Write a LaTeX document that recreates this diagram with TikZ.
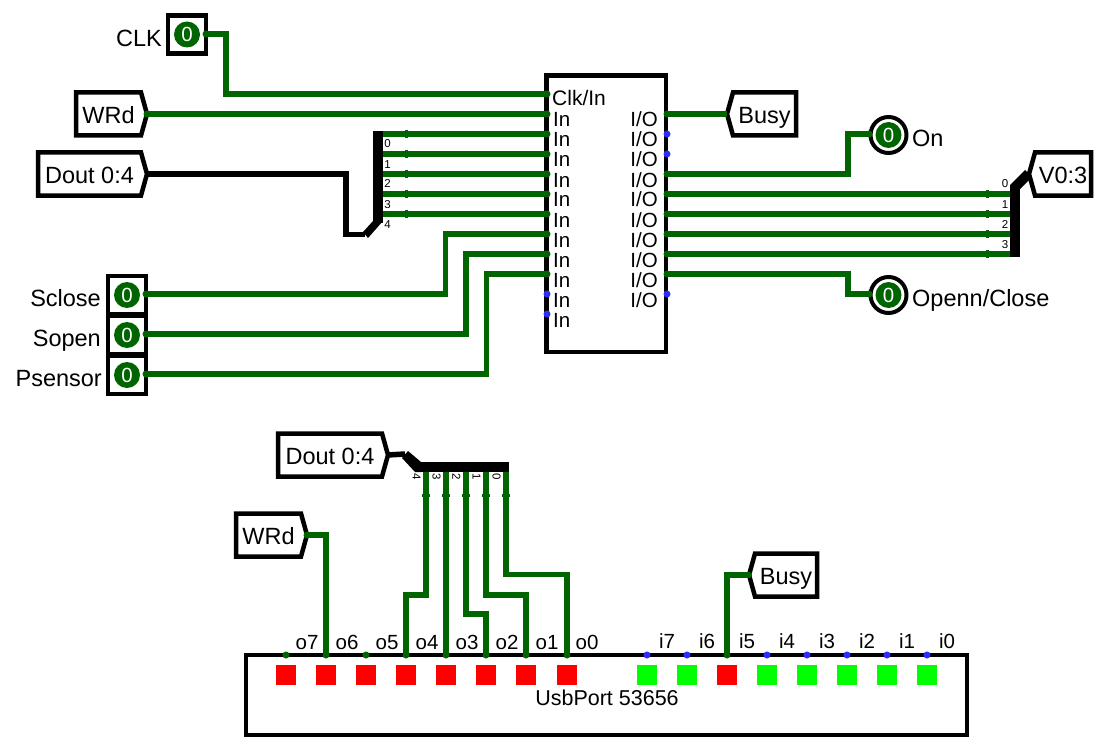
\documentclass[tikz,border=0pt]{standalone}
\usepackage{fontspec}
\setmainfont{Liberation Sans}
\definecolor{wire}{RGB}{0,100,0}
\definecolor{pinblue}{RGB}{45,45,255}
\definecolor{ledred}{RGB}{255,0,0}
\definecolor{ledgreen}{RGB}{0,255,0}
\newcommand{\labfont}{\fontsize{23.5}{26}\selectfont}
\newcommand{\compfont}{\fontsize{20.5}{24}\selectfont}
\newcommand{\tinyfont}{\fontsize{11.5}{13}\selectfont}
\newcommand{\inswitch}[3]{%
  \node[swbox] (#1box) at (#2) {};
  \node[ledc,text=white] (#1led) at (#2) {0};
  \coordinate (#1) at (#3);
  \fill[wire] (#1) circle (3.5);
}
\newcommand{\ledout}[2]{%
  \node[ledring] (#1ring) at (#2) {};
  \node[ledc,text=white] (#1led) at (#2) {0};
}
\newcommand{\signalR}[5]{% name, left x, right x, centre y, text
  \draw[shape line] (#2,#4-21.5) -- (#3-6,#4-21.5) -- (#3,#4) -- (#3-6,#4+21.5) -- (#2,#4+21.5) -- cycle;
  \node[lab,anchor=base] (#1text) at ({(#2+#3-6)/2},#4+9.7) {#5};
  \coordinate (#1) at (#3,#4);
}
\newcommand{\signalL}[5]{% name, left x, right x, centre y, text
  \draw[shape line] (#3,#4-21.5) -- (#2+6,#4-21.5) -- (#2,#4) -- (#2+6,#4+21.5) -- (#3,#4+21.5) -- cycle;
  \node[lab,anchor=base] (#1text) at ({(#2+#3+6)/2},#4+9.7) {#5};
  \coordinate (#1) at (#2,#4);
}
\tikzset{
  x=1pt,y=-1pt,
  shape line/.style={draw=black,line width=4.5pt,fill=white,line join=miter},
  lab/.style={font=\labfont,inner sep=0pt,text=black},
  comp/.style={font=\compfont,inner sep=0pt,text=black},
  small/.style={font=\tinyfont,inner sep=0pt,text=black},
  wirel/.style={draw=wire,line width=5.5pt,line join=miter},
  busthin/.style={draw=black,line width=5.5pt,line join=miter},
  busthick/.style={draw=black,line width=10pt},
  swbox/.style={draw=black,line width=4.5pt,fill=white,minimum width=38pt,minimum height=38pt,inner sep=0pt,outer sep=0pt},
  ledc/.style={circle,fill=wire,minimum size=26pt,inner sep=0pt,font=\fontsize{20.5}{22}\selectfont},
  ledring/.style={circle,draw=black,line width=4pt,fill=white,minimum size=36pt,inner sep=0pt},
}
\begin{document}
\begin{tikzpicture}
\useasboundingbox (0,0) rectangle (1102,754);
\fill[white] (0,0) rectangle (1102,754);

% main component
\draw[shape line] (546.5,75.5) rectangle (666,352);
\node[comp,anchor=base west,font=\fontsize{21}{24}\selectfont] (clkin) at (552,106) {Clk/In};
\coordinate (mc) at (547,94);
\foreach \i [evaluate=\i as \yy using int(94+20*\i)] in {1,...,11}{
  \coordinate (mi\i) at (547,\yy);
  \node[comp,anchor=base west] (min\i) at (553,\yy+13) {In};
}
\foreach \i [evaluate=\i as \yy using int(94+20*\i)] in {1,...,10}{
  \coordinate (mo\i) at (667,\yy);
  \node[comp,anchor=base east] (mout\i) at (658,\yy+13) {I/O};
}

% top inputs
\inswitch{clk}{187,34.5}{206,34}
\node[lab,anchor=base east] (clklab) at (162,47) {CLK};
\inswitch{sclose}{127,295}{146,294}
\inswitch{sopen}{127,335}{146,334}
\inswitch{psensor}{127,375}{146,374}
\node[lab,anchor=base east] (scloselab) at (101,306) {Sclose};
\node[lab,anchor=base east] (sopenlab) at (101,346) {Sopen};
\node[lab,anchor=base east] (psensorlab) at (102,386) {Psensor};
\signalR{wrd}{76}{147}{114}{WRd}
\signalR{dout}{38}{147}{174}{Dout 0:4}

% top splitter
\coordinate (sa) at (365,234.5);
\coordinate (st) at (378,131);
\draw[busthin] (dout) -- (346,174) -- (346,234.5) -- (sa);
\fill[black] (363,232) -- (373,221) -- (383,221) -- (368,238) -- cycle;
\draw[busthick] (378,223) -- (st);
\foreach \i/\n [evaluate=\i as \yy using int(94+20*\i)] in {2/0,3/1,4/2,5/3,6/4}{
  \coordinate (sp\n) at (383,\yy);
  \draw[wirel] (sp\n) -- (mi\i);
  \fill[wire] (404.5,\yy-4) rectangle (407.5,\yy+4);
  \node[small,anchor=base] (sl\n) at (387.5,\yy+14) {\n};
}

% wires into main
\draw[wirel] (clk) -- (226,34) -- (226,94) -- (mc);
\draw[wirel] (wrd) -- (mi1);
\draw[wirel] (sclose) -- (445.5,294) -- (445.5,234) -- (mi7);
\draw[wirel] (sopen) -- (466,334) -- (466,254) -- (mi8);
\draw[wirel] (psensor) -- (486.5,374) -- (486.5,274) -- (mi9);

% right side
\signalL{busy}{727}{796}{114}{Busy}
\draw[wirel] (mo1) -- (busy);
\ledout{on}{888.5,135}
\ledout{op}{888.5,295}
\coordinate (onp) at (869,134);
\coordinate (opp) at (869,294);
\draw[wirel] (mo4) -- (848,174) -- (848,134) -- (onp);
\draw[wirel] (mo9) -- (848,274) -- (848,294) -- (opp);
\fill[wire] (onp) circle (3.5);
\fill[wire] (opp) circle (3.5);
\node[lab,anchor=base west] (onlab) at (912,147) {On};
\node[lab,anchor=base west] (oplab) at (912,306) {Openn/Close};

% V0:3
\coordinate (vb) at (1015,257);
\fill[black] (1010,185) -- (1025,170) -- (1032,177) -- (1020,189) -- (1010,189) -- cycle;
\draw[busthick] (1015,186) -- (vb);
\signalL{vsig}{1029}{1091}{174}{V0:3}
\foreach \i/\n [evaluate=\i as \yy using int(94+20*\i)] in {5/0,6/1,7/2,8/3}{
  \coordinate (vp\n) at (1010,\yy);
  \draw[wirel] (mo\i) -- (vp\n);
  \fill[wire] (985.5,\yy-4) rectangle (988.5,\yy+4);
  \node[small,anchor=base] (vl\n) at (1005,\yy-6) {\n};
}

% pins on main
\fill[wire] (mc) circle (3.5);
\foreach \i in {1,...,9} \fill[wire] (mi\i) circle (3.5);
\foreach \i in {10,11} \fill[pinblue] (mi\i) circle (3.5);
\foreach \i in {1,4,5,6,7,8,9} \fill[wire] (mo\i) circle (3.5);
\foreach \i in {2,3,10} \fill[pinblue] (mo\i) circle (3.5);
\fill[wire] (wrd) circle (3.5);

% USB port
\draw[shape line,line width=4pt] (246,655) rectangle (967,735);
\node[comp,anchor=base,font=\fontsize{21.5}{24}\selectfont] (usblab) at (607,705) {UsbPort 53656};
\foreach \n/\x in {7/286,6/326,5/366,4/406,3/446,2/486,1/526,0/567}{
  \coordinate (up\n) at (\x,655);
  \fill[ledred] (\x-10,665) rectangle (\x+10,685);
}
\foreach \n/\x in {7/647,6/687,5/727,4/767,3/807,2/847,1/887,0/927}{
  \coordinate (ui\n) at (\x,655);
}
\foreach \n/\x in {7/647,6/687,4/767,3/807,2/847,1/887,0/927}{
  \fill[ledgreen] (\x-10,665) rectangle (\x+10,685);
}
\fill[ledred] (717,665) rectangle (737,685);
\foreach \n/\x in {7/307,6/347,5/387,4/427,3/467,2/507,1/547,0/587}{
  \node[comp,anchor=base] (ol\n) at (\x,649) {o\n};
}
\foreach \n/\x in {7/667,6/707,5/747,4/787,3/827,2/867,1/907,0/947}{
  \node[comp,anchor=base] (il\n) at (\x,648) {i\n};
}

% lower left
\signalR{douts}{278}{388}{455}{Dout 0:4}
\signalR{wrds}{236}{307}{535}{WRd}
\coordinate (la) at (405,454);
\coordinate (lc) at (509,467);
\draw[busthin] (douts) -- (la);
\fill[black] (402,458) -- (408,451) -- (421,462) -- (421,472) -- (415,472) -- cycle;
\draw[busthick] (417,467) -- (lc);
\draw[wirel] (wrds) -- (326,535) -- (up6);
\fill[wire] (wrds) circle (3.5);
\foreach \n/\x in {4/426,3/446,2/466,1/486,0/506}{
  \coordinate (lp\n) at (\x,472);
  \fill[wire] (\x-4,493.5) rectangle (\x+4,496.5);
  \node[small,rotate=-90] (ll\n) at (\x-9.5,476.5) {\n};
}
\draw[wirel] (lp4) -- (426,595) -- (406,595) -- (up4);
\draw[wirel] (lp3) -- (up3);
\draw[wirel] (lp2) -- (466,614) -- (486,614) -- (up2);
\draw[wirel] (lp1) -- (486,595) -- (526,595) -- (up1);
\draw[wirel] (lp0) -- (506,574.5) -- (567,574.5) -- (up0);
\signalL{busys}{749}{817}{575}{Busy}
\draw[wirel] (busys) -- (727,575) -- (ui5);
\fill[wire] (busys) circle (3);
\foreach \n in {7,5} \fill[wire] (up\n) circle (3.5);
\foreach \n in {6,4,3,2,1,0} \fill[wire] (up\n) circle (3.5);
\fill[wire] (ui5) circle (3.5);
\foreach \n in {7,6,4,3,2,1,0} \fill[pinblue] (ui\n) circle (3.5);
\end{tikzpicture}
\end{document}
